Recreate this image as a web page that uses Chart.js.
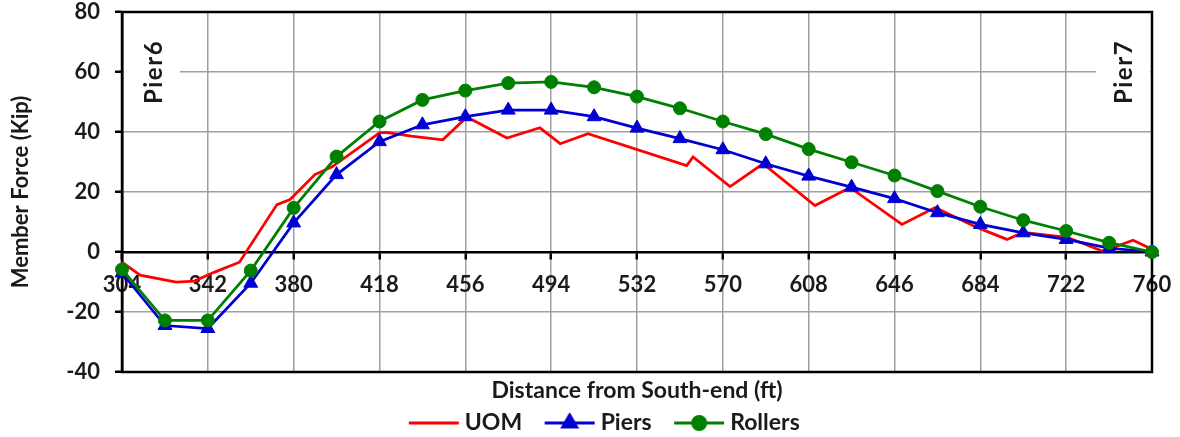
<!DOCTYPE html>
<html>
<head>
<meta charset="utf-8">
<title>Member Force along the span</title>
<script src="https://cdn.jsdelivr.net/npm/chart.js@4/dist/chart.umd.min.js"></script>
<style>
  html, body { margin: 0; padding: 0; background: #ffffff; }
  #wrap { width: 1180px; height: 437px; }
</style>
</head>
<body>
<div id="wrap"><canvas id="chart" width="1180" height="437"></canvas></div>
<script>
// Panel-point stations (ft from the south end) for the support cases
const stations = [304, 323, 342, 361, 380, 399, 418, 437, 456, 475, 494, 513, 532,
                  551, 570, 589, 608, 627, 646, 665, 684, 703, 722, 741, 760];

// Member force (kip) with the truss resting on piers
const piersForce = [-7, -24.5, -25.5, -10.4, 9.7, 25.8, 36.8, 42.4, 45.1, 47.3, 47.3, 45.1, 41.3,
                    37.8, 34.1, 29.4, 25.3, 21.6, 17.8, 13.1, 9.2, 6.4, 4.2, 1.3, 0];

// Member force (kip) with the truss on rollers
const rollersForce = [-5.8, -22.8, -22.8, -6.2, 14.7, 31.8, 43.5, 50.7, 53.8, 56.3, 56.7, 54.9, 51.8,
                      47.9, 43.5, 39.3, 34.3, 29.9, 25.5, 20.3, 15.1, 10.6, 7.0, 3.1, 0];

// Measured (UOM) member force, sampled at its own stations
const uomStations = [304, 312, 328, 336, 345, 356, 372.6, 378.4, 389.4, 397, 418, 421, 432, 446,
                     456.7, 474.4, 489, 498, 510.3, 554, 556.8, 573.2, 587.8, 610.8, 626.3,
                     649.3, 664, 682.5, 695.8, 703, 722.4, 738.3, 751.6, 760];
const uomForce = [-3.4, -7.7, -10, -9.7, -6.7, -3.4, 15.8, 17.5, 25.8, 28.4, 39.7, 39.9, 38.6, 37.4,
                  45, 38, 41.4, 36.1, 39.4, 28.8, 31.7, 21.8, 29.4, 15.5, 21.5,
                  9.2, 14.8, 8.2, 4.2, 6.5, 4.9, 0.2, 3.9, 0.9];

// Axis ranges and tick steps
const xRange = [304, 760];
const xStep = 38;
const yRange = [-40, 80];
const yStep = 20;

// Support labels at each end of the span
const endLabels = ['Pier6', 'Pier7'];

const seriesNames = ['UOM', 'Piers', 'Rollers'];
const seriesColors = ['#ff0000', '#0000d0', '#008000'];
const seriesMarkers = [null, 'triangle', 'circle'];
const markerRadii = [0, 8, 6.5];

const TEXT = '#1a1a1a';
const GRID = '#a0a0a0';
const FONT = 'Lato';

// Page margins: the legend is laid out from LEFT_PAD, the plot starts at PLOT_LEFT
const LEFT_PAD = 6;
const PLOT_LEFT = 122;
const PLOT_RIGHT_GAP = 28;

const toPoints = (xs, ys) => xs.map((x, i) => ({ x: x, y: ys[i] }));

// Legend swatch: blank lead-in, then a 50px line with the series marker in its middle
const SWATCH_LEAD = 29;
const SWATCH_W = 80;
function swatch(color, style, radius) {
  const c = document.createElement('canvas');
  c.width = SWATCH_W; c.height = 20;
  const g = c.getContext('2d');
  g.strokeStyle = color;
  g.lineWidth = 3;
  g.beginPath(); g.moveTo(SWATCH_LEAD, 10); g.lineTo(SWATCH_LEAD + 50, 10); g.stroke();
  if (style) {
    g.fillStyle = color;
    Chart.helpers.drawPoint(g, { pointStyle: style, radius: radius, rotation: 0, borderWidth: 1 }, SWATCH_LEAD + 25, 10);
  }
  return c;
}

// Plot frame plus the white-boxed pier labels
const framePlugin = {
  id: 'frameAndPiers',
  beforeDatasetsDraw(chart) {
    const { ctx, chartArea: a } = chart;
    ctx.save();
    const boxes = [
      { x: a.left + 2, w: 56, text: endLabels[0], cx: a.left + 32 },
      { x: a.right - 56, w: 54, text: endLabels[1], cx: a.right - 28 }
    ];
    ctx.font = 'bold 24px ' + FONT;
    ctx.letterSpacing = '1.5px';
    ctx.textAlign = 'center';
    ctx.textBaseline = 'middle';
    boxes.forEach(b => {
      ctx.fillStyle = '#ffffff';
      ctx.fillRect(b.x, a.top + 16, b.w, 96);
      ctx.save();
      ctx.translate(b.cx, a.top + 60);
      ctx.rotate(-Math.PI / 2);
      ctx.fillStyle = TEXT;
      ctx.fillText(b.text, 0, 0);
      ctx.restore();
    });
    ctx.letterSpacing = '0px';
    // outer frame of the plot area
    ctx.strokeStyle = '#000000';
    ctx.lineWidth = 2.5;
    ctx.strokeRect(a.left, a.top, a.right - a.left, a.bottom - a.top);
    ctx.restore();
  }
};

const ctx = document.getElementById('chart').getContext('2d');
new Chart(ctx, {
  type: 'line',
  data: {
    datasets: [
      {
        label: seriesNames[0],
        data: toPoints(uomStations, uomForce),
        borderColor: seriesColors[0],
        backgroundColor: seriesColors[0],
        borderWidth: 2.75,
        pointRadius: 0,
        tension: 0,
        clip: false,
        order: 3
      },
      {
        label: seriesNames[1],
        data: toPoints(stations, piersForce),
        borderColor: seriesColors[1],
        backgroundColor: seriesColors[1],
        borderWidth: 2.75,
        pointStyle: seriesMarkers[1],
        pointRadius: markerRadii[1],
        pointBorderWidth: 1,
        pointBackgroundColor: seriesColors[1],
        pointBorderColor: seriesColors[1],
        tension: 0,
        clip: false,
        order: 2
      },
      {
        label: seriesNames[2],
        data: toPoints(stations, rollersForce),
        borderColor: seriesColors[2],
        backgroundColor: seriesColors[2],
        borderWidth: 2.75,
        pointStyle: seriesMarkers[2],
        pointRadius: markerRadii[2],
        pointBorderWidth: 1,
        pointBackgroundColor: seriesColors[2],
        pointBorderColor: seriesColors[2],
        tension: 0,
        clip: false,
        order: 1
      }
    ]
  },
  options: {
    responsive: false,
    animation: false,
    events: [],
    layout: { padding: { top: 12, right: 0, left: LEFT_PAD, bottom: -7.5 } },
    scales: {
      x: {
        type: 'linear',
        position: { y: 0 },
        min: xRange[0],
        max: xRange[1],
        ticks: {
          stepSize: xStep,
          autoSkip: false,
          maxRotation: 0,
          padding: 14,
          color: TEXT,
          font: { family: FONT, size: 22, weight: 'bold' }
        },
        grid: { color: GRID, lineWidth: 1.5, tickColor: '#000000', tickLength: 6, tickWidth: 2.5 },
        border: { color: '#000000', width: 2.5 },
        afterFit(scale) {
          scale.height = 0;
          scale.paddingRight = PLOT_RIGHT_GAP;
        }
      },
      y: {
        min: yRange[0],
        max: yRange[1],
        ticks: {
          stepSize: yStep,
          padding: 15,
          color: TEXT,
          font: { family: FONT, size: 22, weight: 'bold' }
        },
        grid: { color: GRID, lineWidth: 1.5, tickColor: '#000000', tickLength: 7, tickWidth: 2.5 },
        border: { color: '#000000', width: 2.5 },
        title: {
          display: true,
          text: 'Member Force (Kip)',
          color: TEXT,
          font: { family: FONT, size: 22, weight: 'bold' },
          padding: { top: 8 - LEFT_PAD, bottom: 0 }
        },
        afterFit(scale) {
          scale.width = PLOT_LEFT - LEFT_PAD;
          scale.paddingTop = 0;
          scale.paddingBottom = 0;
        }
      }
    },
    plugins: {
      tooltip: { enabled: false },
      title: {
        display: true,
        position: 'bottom',
        fullSize: false,
        weight: 500,
        text: 'Distance from South-end (ft)',
        color: TEXT,
        font: { family: FONT, size: 23, weight: 'bold' },
        padding: { top: 5.2, bottom: 6.7 }
      },
      legend: {
        position: 'bottom',
        labels: {
          usePointStyle: true,
          pointStyleWidth: 67,
          padding: 0,
          color: TEXT,
          font: { family: FONT, size: 23, weight: 'bold' },
          generateLabels(chart) {
            return chart.data.datasets.map((ds, i) => ({
              text: ds.label,
              datasetIndex: i,
              fillStyle: seriesColors[i],
              strokeStyle: seriesColors[i],
              lineWidth: 0,
              fontColor: TEXT,
              pointStyle: swatch(seriesColors[i], seriesMarkers[i], markerRadii[i]),
              hidden: false
            }));
          }
        }
      }
    }
  },
  plugins: [framePlugin]
});
</script>
</body>
</html>
